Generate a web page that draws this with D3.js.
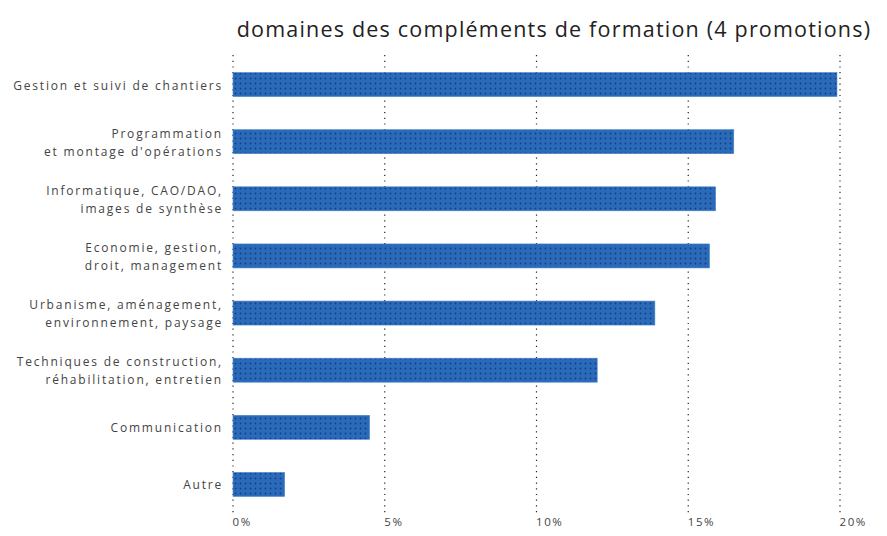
<!DOCTYPE html>
<html>
<head>
<meta charset="utf-8">
<script src="https://cdn.jsdelivr.net/npm/d3@7"></script>
<style>
    body { margin: 0; background: #fff; }
    text { font-family: "Open Sans", "DejaVu Sans", sans-serif; }
</style>
</head>
<body>
<div id="chart"></div>
<script>

// data
let categories = [
    ["Gestion et suivi de chantiers"],
    ["Programmation", "et montage d'opérations"],
    ["Informatique, CAO/DAO,", "images de synthèse"],
    ["Economie, gestion,", "droit, management"],
    ["Urbanisme, aménagement,", "environnement, paysage"],
    ["Techniques de construction,", "réhabilitation, entretien"],
    ["Communication"],
    ["Autre"]
];
let values = [19.9, 16.5, 15.9, 15.7, 13.9, 12.0, 4.5, 1.7];
let ticks = [0, 5, 10, 15, 20];
let title = "domaines des compléments de formation (4 promotions)";

let margin = {top: 56, right: 47, bottom: 23, left: 233};
let W = 887, H = 536;
let width = W - margin.left - margin.right;
let height = H - margin.top - margin.bottom;

let svg = d3.select("#chart").append("svg")
    .attr("width", W)
    .attr("height", H);

// bar texture: blue with small dark dots
let defs = svg.append("defs");
let pat = defs.append("pattern")
    .attr("id", "dots")
    .attr("patternUnits", "userSpaceOnUse")
    .attr("width", 5)
    .attr("height", 5);
pat.append("rect").attr("width", 5).attr("height", 5).attr("fill", "#2a6ab8");
pat.append("circle").attr("cx", 2.5).attr("cy", 2.5).attr("r", 0.9).attr("fill", "#123f8c");

svg.append("text")
    .attr("x", 554)
    .attr("y", 37)
    .attr("text-anchor", "middle")
    .style("font-size", "21.5px")
    .style("letter-spacing", "1.2px")
    .style("fill", "#222")
    .text(title);

let g = svg.append("g")
    .attr("transform", `translate(${margin.left}, ${margin.top})`);

let x = d3.scaleLinear()
    .domain([0, 20])
    .range([0, width]);

let y = d3.scaleBand()
    .domain(d3.range(categories.length))
    .range([0, height])
    .paddingInner(0.58)
    .paddingOuter(0.29);

// dotted grid lines
g.selectAll(".grid")
    .data(ticks)
    .enter()
    .append("line")
    .attr("class", "grid")
    .attr("x1", d => x(d))
    .attr("x2", d => x(d))
    .attr("y1", -1)
    .attr("y2", height)
    .attr("stroke", "#222")
    .attr("stroke-width", 1.2)
    .attr("stroke-dasharray", "1.2,4.5");

g.selectAll(".bar")
    .data(values)
    .enter()
    .append("rect")
    .attr("class", "bar")
    .attr("x", 0)
    .attr("y", (d, i) => y(i))
    .attr("width", d => x(d))
    .attr("height", y.bandwidth())
    .attr("fill", "url(#dots)")
    .attr("stroke", "#4a86cc")
    .attr("stroke-width", 0.6);

// category labels
let labels = g.selectAll(".cat")
    .data(categories)
    .enter()
    .append("text")
    .attr("class", "cat")
    .attr("text-anchor", "end")
    .style("font-size", "12px")
    .style("letter-spacing", "1.8px")
    .style("fill", "#444")
    .attr("transform", (d, i) => `translate(-10, ${y(i) + y.bandwidth() / 2})`);

labels.selectAll("tspan")
    .data(d => d.map((t, j) => ({t: t, j: j, n: d.length})))
    .enter()
    .append("tspan")
    .attr("x", 0)
    .attr("y", d => (d.j - (d.n - 1) / 2) * 18 + 5)
    .text(d => d.t);

// x axis labels
let xAxis = d3.axisBottom(x)
    .tickValues(ticks)
    .tickSize(0)
    .tickFormat(d => d + "%");

g.append("g")
    .attr("class", "xAxis")
    .attr("transform", `translate(0, ${height})`)
    .call(xAxis)
    .call(a => a.select(".domain").remove())
    .selectAll("text")
    .attr("text-anchor", "start")
    .attr("dx", "-1")
    .attr("dy", "0.9em")
    .style("font-size", "11.5px")
    .style("letter-spacing", "1.6px")
    .style("fill", "#444")
    .style("font-family", "'Open Sans', sans-serif");

</script>
</body>
</html>
